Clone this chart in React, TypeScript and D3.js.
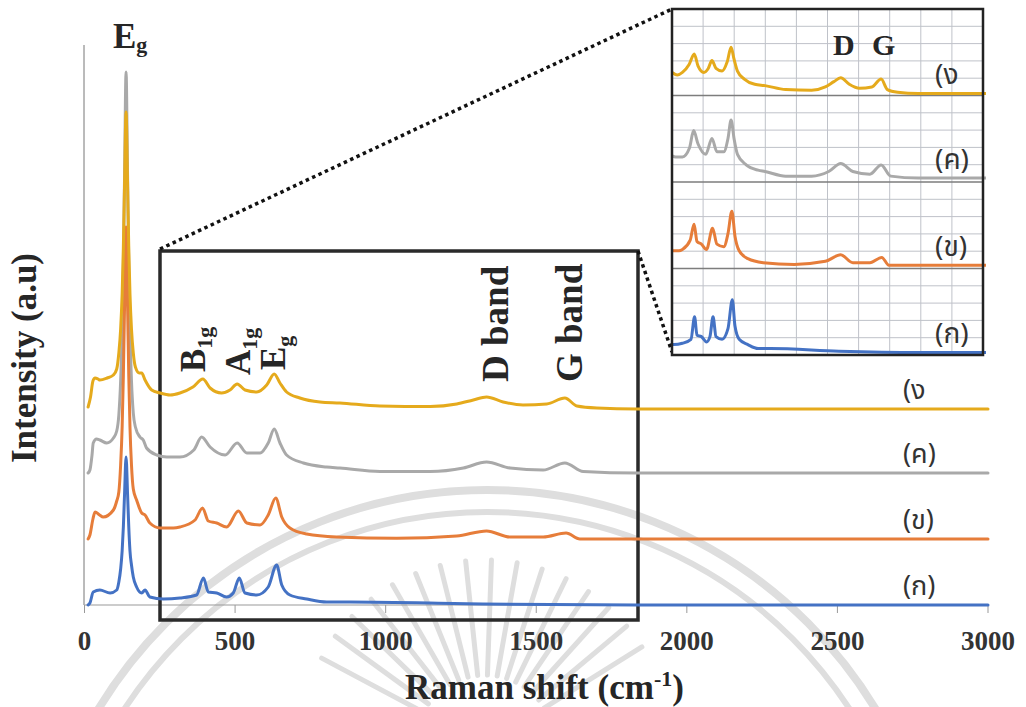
import React from 'react';
import * as d3 from 'd3';

type Pt = [number, number];

// Raman shift (cm-1) vs intensity above each trace's own baseline (a.u.)
const spectrumKo: Pt[] = [
  [12, 0], [18, 2], [29, 13], [51, 15], [85, 12], [107, 15], [114, 23], [120, 36], [125, 54],
  [129, 78], [133, 111], [138, 148], [143, 111], [147, 78], [151, 54], [156, 40], [162, 28],
  [173, 18], [190, 12], [201, 15], [217, 8], [262, 6], [317, 7], [372, 10], [395, 27], [411, 13],
  [439, 12], [472, 8], [494, 12], [514, 27], [533, 12], [572, 10], [610, 18], [638, 40], [655, 20],
  [682, 10], [738, 6], [804, 3], [882, 3], [1323, 1], [1834, 0], [3000, 0],
];
const spectrumKho: Pt[] = [
  [12, 0], [18, 4], [28, 20], [35, 27], [50, 24], [62, 22], [96, 29], [107, 38], [114, 47],
  [120, 74], [125, 112], [129, 163], [133, 233], [138, 312], [143, 233], [147, 163], [151, 112],
  [156, 74], [162, 50], [173, 39], [190, 26], [201, 24], [217, 16], [251, 11], [295, 11], [317, 12],
  [367, 19], [392, 31], [411, 18], [439, 16], [472, 12], [511, 28], [539, 16], [583, 14], [610, 24],
  [635, 41], [655, 22], [682, 11], [738, 5], [837, 2], [1037, 0.7], [1236, 3], [1335, 8], [1413, 2],
  [1523, 2], [1599, 6], [1645, 0], [3000, 0],
];
const spectrumKho2: Pt[] = [
  [12, 0], [18, 3], [25, 18], [29, 30], [40, 34], [51, 33], [74, 30], [96, 35], [107, 42],
  [114, 58], [120, 92], [125, 141], [129, 207], [133, 298], [138, 401], [143, 298], [147, 207],
  [151, 141], [156, 92], [162, 60], [169, 46], [184, 36], [195, 33], [206, 25], [240, 18], [273, 16],
  [317, 16], [363, 23], [389, 36], [417, 26], [467, 18], [507, 30], [539, 20], [583, 20], [610, 30],
  [630, 44], [649, 30], [671, 18], [727, 10], [804, 6], [848, 5], [981, 1.5], [1148, 1.5], [1258, 5],
  [1335, 11], [1413, 5], [1523, 3], [1595, 10], [1656, 1.5], [1834, 0], [3000, 0],
];
const spectrumNgo: Pt[] = [
  [12, 2], [20, 12], [28, 28], [35, 31], [45, 30], [51, 29], [75, 31], [96, 34], [107, 40],
  [114, 56], [120, 80], [125, 115], [129, 161], [133, 225], [138, 297], [143, 225], [147, 161],
  [151, 115], [156, 80], [162, 56], [169, 42], [182, 36], [190, 36], [201, 29], [223, 19], [251, 16],
  [284, 14], [317, 16], [360, 22], [393, 30], [417, 21], [455, 16], [483, 19], [507, 25], [533, 19],
  [572, 17], [605, 24], [630, 35], [649, 26], [671, 17], [715, 11], [782, 7], [848, 6], [981, 3],
  [1148, 2.5], [1236, 5], [1291, 9], [1335, 12], [1390, 7], [1456, 4], [1535, 5], [1595, 11],
  [1635, 3], [1701, 1], [1834, 0], [3000, 0],
];

const seriesLabels = ['(ก)', '(ข)', '(ค)', '(ง'];
const seriesColors = ['#4472c4', '#e67d3a', '#a9a9a9', '#e5aa1c'];
const seriesOffsets = [0, 66, 132, 196];
const seriesData = [spectrumKo, spectrumKho, spectrumKho2, spectrumNgo];
const drawOrder = [2, 1, 3, 0];

const xTicks = [0, 500, 1000, 1500, 2000, 2500, 3000];
const insetGridX = d3.range(450, 2250, 200);

const serif = '"Liberation Serif", "Times New Roman", serif';
const thai = '"Noto Sans Thai", "Noto Sans", "DejaVu Sans", sans-serif';
const ink = '#262626';

const x = d3.scaleLinear().domain([0, 3000]).range([84.5, 988]);
const y = d3.scaleLinear().domain([0, 560]).range([605, 45]);

const inset = { left: 672, top: 9, width: 311, height: 346 };
const ix = d3.scaleLinear().domain([250, 2250]).range([inset.left, inset.left + inset.width]);
const iy = d3.scaleLinear().domain([0, 260]).range([352.5, inset.top]);

const zoomBox = { x0: 160, y0: 251, x1: 638, y1: 620 };

// watermark seal (background decoration)
const seal = { cx: 487, cy: 944 };
const rayAngles = d3.range(-152, -27, 8);

const mainLine = (off: number) =>
  d3.line<Pt>().x(d => x(d[0])).y(d => y(d[1] + off)).curve(d3.curveMonotoneX);
const insetLine = (off: number) =>
  d3.line<Pt>().x(d => ix(d[0])).y(d => iy(d[1] + off)).curve(d3.curveMonotoneX);

const Rotated = ({ tx, ty, main, sub, size = 35 }: { tx: number; ty: number; main: string; sub?: string; size?: number }) => (
  <text transform={`translate(${tx},${ty}) rotate(-90)`} fontFamily={serif} fontWeight="bold" fontSize={size} fill={ink}>
    {main}
    {sub && <tspan fontSize={22} dy={7}>{sub}</tspan>}
  </text>
);

export default function App() {
  const rowH = inset.height / 20;
  return (
    <svg width={1026} height={707} style={{ position: 'absolute', left: 0, top: 0, background: '#fff' }}>
      {/* faint seal watermark behind the chart */}
      <g fill="none" stroke="#dedede">
        <circle cx={seal.cx} cy={seal.cy} r={454} strokeWidth={8} />
        <circle cx={seal.cx} cy={seal.cy} r={432} strokeWidth={6} />
        {rayAngles.map(a => {
          const r = (a * Math.PI) / 180;
          return (
            <line key={a} x1={485 + Math.cos(r) * 70} y1={745 + Math.sin(r) * 70}
              x2={485 + Math.cos(r) * 185} y2={745 + Math.sin(r) * 185} strokeWidth={5} strokeLinecap="round" />
          );
        })}
      </g>

      {/* axes */}
      <line x1={84} x2={84} y1={45} y2={605} stroke="#777" strokeWidth={1} />
      <line x1={x(0)} x2={x(3000)} y1={605} y2={605} stroke="#999" strokeWidth={1} />
      {xTicks.map(t => (
        <g key={t}>
          <line x1={x(t)} x2={x(t)} y1={605} y2={613} stroke="#999" strokeWidth={1} />
          <text x={x(t)} y={650} textAnchor="middle" fontFamily={serif} fontWeight="bold" fontSize={27} fill="#333">{t}</text>
        </g>
      ))}
      <text x={405} y={699} fontFamily={serif} fontWeight="bold" fontSize={35} fill={ink}>
        Raman shift (cm<tspan fontSize={22} dy={-13}>-1</tspan><tspan dy={13}>)</tspan>
      </text>
      <text transform="translate(36,463) rotate(-90)" fontFamily={serif} fontWeight="bold" fontSize={35} fill={ink}>
        Intensity (a.u)
      </text>

      {/* zoom box and connectors */}
      <rect x={zoomBox.x0} y={zoomBox.y0} width={zoomBox.x1 - zoomBox.x0} height={zoomBox.y1 - zoomBox.y0}
        fill="none" stroke="#2a2a2a" strokeWidth={3.5} />
      <g stroke="#111" strokeWidth={3.5} strokeDasharray="3.5 3.5">
        <line x1={zoomBox.x0} y1={zoomBox.y0 - 2} x2={inset.left} y2={inset.top} />
        <line x1={zoomBox.x1} y1={zoomBox.y0} x2={inset.left} y2={inset.top + inset.height - 3} />
      </g>

      {/* spectra */}
      {drawOrder.map(i => (
        <path key={i} d={mainLine(seriesOffsets[i])(seriesData[i]) ?? ''} fill="none"
          stroke={seriesColors[i]} strokeWidth={3} strokeLinejoin="round" strokeLinecap="round" />
      ))}
      {seriesLabels.map((l, i) => (
        <text key={l} x={903} y={y(seriesOffsets[i]) - 19} dominantBaseline="central" fontFamily={thai} fontSize={27} fill="#333">{l}</text>
      ))}

      {/* peak labels */}
      <text x={113} y={48} fontFamily={serif} fontWeight="bold" fontSize={35} fill={ink}>
        E<tspan fontSize={22} dy={4}>g</tspan>
      </text>
      <Rotated tx={205} ty={372} main="B" sub="1g" />
      <Rotated tx={250} ty={375} main="A" sub="1g" />
      <Rotated tx={285} ty={370} main="E" sub="g" />
      <Rotated tx={508} ty={382} main="D band" size={37} />
      <Rotated tx={582} ty={382} main="G band" size={37} />

      {/* inset */}
      <defs>
        <clipPath id="insetClip">
          <rect x={inset.left} y={inset.top} width={inset.width + 3} height={inset.height} />
        </clipPath>
      </defs>
      <rect x={inset.left} y={inset.top} width={inset.width} height={inset.height} fill="#fff" />
      <g strokeWidth={1}>
        {insetGridX.map(v => (
          <line key={v} x1={ix(v)} x2={ix(v)} y1={inset.top} y2={inset.top + inset.height} stroke="#bfc2c9" />
        ))}
        {d3.range(1, 20).map(r => (
          <line key={r} x1={inset.left} x2={inset.left + inset.width} y1={inset.top + r * rowH} y2={inset.top + r * rowH}
            stroke={r % 5 === 0 ? '#7d7d7d' : '#bfc2c9'} strokeWidth={r % 5 === 0 ? 1.3 : 1} />
        ))}
      </g>
      <g clipPath="url(#insetClip)">
        {drawOrder.map(i => (
          <path key={i} d={insetLine(seriesOffsets[i])(seriesData[i]) ?? ''} fill="none"
            stroke={seriesColors[i]} strokeWidth={3} strokeLinejoin="round" strokeLinecap="round" />
        ))}
      </g>
      <rect x={inset.left} y={inset.top} width={inset.width} height={inset.height} fill="none" stroke="#222" strokeWidth={2.5} />
      <text x={833} y={55} fontFamily={serif} fontWeight="bold" fontSize={30} fill={ink}>D</text>
      <text x={872} y={55} fontFamily={serif} fontWeight="bold" fontSize={30} fill={ink}>G</text>
      {seriesLabels.map((l, i) => (
        <text key={l} x={935} y={iy(seriesOffsets[i]) - 18} dominantBaseline="central" fontFamily={thai} fontSize={28} fill="#333">{l}</text>
      ))}
    </svg>
  );
}
